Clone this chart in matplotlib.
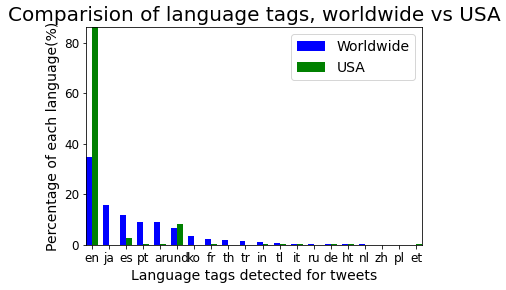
import matplotlib
matplotlib.use("Agg")
import matplotlib.pyplot as plt
import numpy as np

langs = ["en", "ja", "es", "pt", "ar", "und", "ko", "fr", "th", "tr",
         "in", "tl", "it", "ru", "de", "ht", "nl", "zh", "pl", "et"]
worldwide = [35.0, 15.8, 11.9, 9.2, 9.2, 6.7, 3.6, 2.5, 2.1, 1.6,
             1.2, 0.8, 0.4, 0.3, 0.3, 0.3, 0.3, 0.1, 0.05, 0.0]
usa = [86.3, 0.0, 2.8, 0.4, 0.3, 8.3, 0.0, 0.3, 0.0, 0.0,
       0.3, 0.4, 0.2, 0.0, 0.2, 0.2, 0.0, 0.0, 0.0, 0.5]

w = 0.35
x = np.arange(len(langs))

fig = plt.figure(figsize=(506/72, 290/72), dpi=72)
ax = fig.add_axes([86/506, 45/290, 336/506, 218/290])

ax.bar(x - w/2, worldwide, w, color="blue", label="Worldwide")
ax.bar(x + w/2, usa, w, color="green", label="USA")
ax.margins(0)

ax.set_xticks(x)
ax.set_xticklabels(langs)
ax.set_yticks([0, 20, 40, 60, 80])
ax.tick_params(labelsize=12)
ax.set_title("Comparision of language tags, worldwide vs USA", fontsize=20)
ax.set_xlabel("Language tags detected for tweets", fontsize=14)
ax.set_ylabel("Percentage of each language(%)", fontsize=14)
ax.legend(fontsize=14)

fig.savefig("out.png", dpi=72)
